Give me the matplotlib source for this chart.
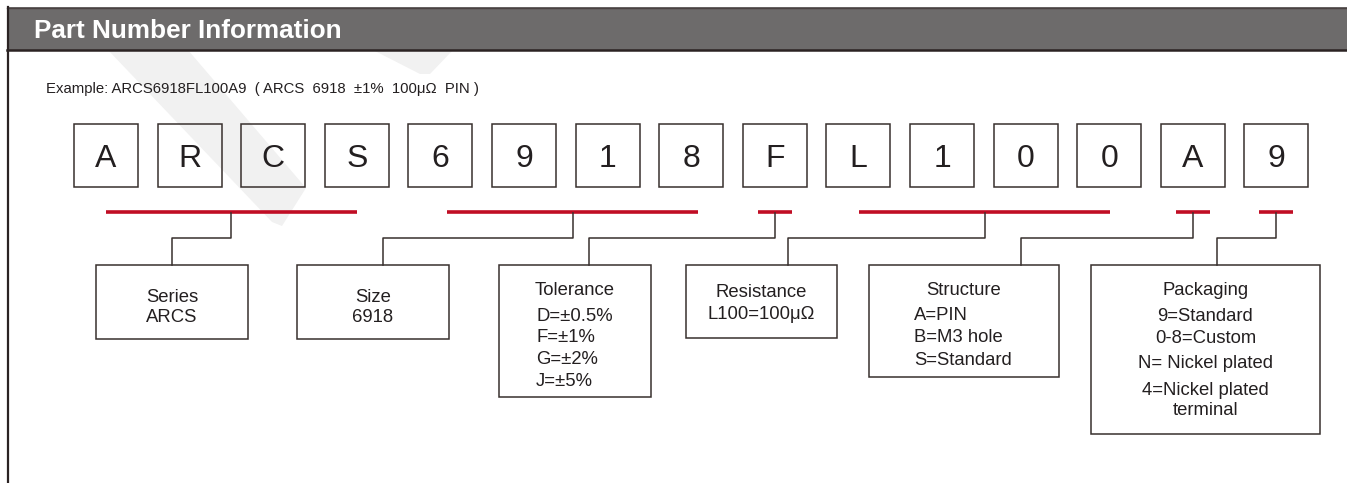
import matplotlib.pyplot as plt
from matplotlib.patches import Rectangle, Polygon

plt.rcParams['font.family'] = ['Liberation Sans', 'DejaVu Sans']

# part number, one character per box
letters = list("ARCS6918FL100A9")

# fields: first and last character index of each
field_span = [(0, 3), (4, 7), (8, 8), (9, 12), (13, 13), (14, 14)]
field_title = ["Series", "Size", "Tolerance", "Resistance", "Structure", "Packaging"]
field_lines = [
    ["ARCS"],
    ["6918"],
    ["D=±0.5%", "F=±1%", "G=±2%", "J=±5%"],
    ["L100=100μΩ"],
    ["A=PIN", "B=M3 hole", "S=Standard"],
    ["9=Standard", "0-8=Custom", "N= Nickel plated", "4=Nickel plated", "terminal"],
]
field_align = ["center", "center", "left", "center", "left", "center"]

header = "Part Number Information"
example = "Example: ARCS6918FL100A9  ( ARCS  6918  ±1%  100μΩ  PIN )"

# layout (pixels)
W, H = 1347, 483
box_x0, box_step, box_w, box_top, box_h = 74, 83.6, 64, 124, 63
red_y, mid_y, card_top = 212, 238, 265
red_shift = [0, 7, 0, 1, 0, 0]
card_x = [(96, 248), (297, 449), (499, 651), (686, 837), (869, 1059), (1091, 1320)]
card_bottom = [339, 339, 397, 338, 377, 434]
drop_x = [172, 383, 589, 788, 1021, 1217]
title_base = [302, 302, 295, 297, 295, 295]
line_base = [[322], [322], [321, 342, 364, 386], [319], [320, 342, 365],
             [321, 343, 368, 395, 415]]
left_x = {2: 536, 4: 914}

dark = '#38302e'
txt = '#231f20'
red = '#c00d24'

fig = plt.figure(figsize=(W / 100, H / 100), dpi=100)
ax = fig.add_axes([0, 0, 1, 1])
ax.set_xlim(0, W)
ax.set_ylim(H, 0)
ax.axis('off')

# faint watermark
ax.add_patch(Polygon([(108, 50), (188, 50), (306, 188), (282, 226), (272, 222)],
                     closed=True, color='#f1f1f1', lw=0, zorder=0))
ax.add_patch(Polygon([(373, 50), (453, 50), (430, 74), (420, 74)],
                     closed=True, color='#f1f1f1', lw=0, zorder=0))

# header bar
ax.add_patch(Rectangle((7, 7), W, 43, facecolor='#6d6b6b', edgecolor='none', zorder=1))
ax.plot([7, W], [7.5, 7.5], color='#4a4242', lw=1.0, zorder=2)
ax.plot([7, W], [49.5, 49.5], color='#2b2323', lw=1.8, zorder=2)
ax.plot([7.5, 7.5], [7, H], color='#2b2323', lw=1.6, zorder=2)
ax.text(34, 38, header, color='white', fontsize=18.8, fontweight='bold', va='baseline')

ax.text(46, 93, example, color=txt, fontsize=10.7, va='baseline')

# character boxes
centers = []
for i, ch in enumerate(letters):
    x = box_x0 + i * box_step
    centers.append(x + box_w / 2)
    ax.add_patch(Rectangle((x, box_top), box_w, box_h, facecolor='none',
                           edgecolor=dark, lw=1.1, zorder=3))
    ax.text(x + box_w / 2, 167, ch, color=txt, fontsize=23, ha='center',
            va='baseline', zorder=4)

# fields
for k, (a, b) in enumerate(field_span):
    if a == b:
        x1, x2 = centers[a] - 17, centers[a] + 17
    else:
        x1, x2 = centers[a] + red_shift[k], centers[b] + red_shift[k]
    ax.plot([x1, x2], [red_y, red_y], color=red, lw=2.6, solid_capstyle='butt', zorder=3)
    xm = (x1 + x2) / 2
    ax.plot([xm, xm, drop_x[k], drop_x[k]], [red_y + 1, mid_y, mid_y, card_top],
            color=dark, lw=1.1, zorder=3)
    cx0, cx1 = card_x[k]
    ax.add_patch(Rectangle((cx0, card_top), cx1 - cx0, card_bottom[k] - card_top,
                           facecolor='none', edgecolor=dark, lw=1.1, zorder=3))
    cc = (cx0 + cx1) / 2
    ax.text(cc, title_base[k], field_title[k], color=txt, fontsize=13.3,
            ha='center', va='baseline')
    for s, yb in zip(field_lines[k], line_base[k]):
        if field_align[k] == 'left':
            ax.text(left_x[k], yb, s, color=txt, fontsize=13.3, ha='left', va='baseline')
        else:
            ax.text(cc, yb, s, color=txt, fontsize=13.3, ha='center', va='baseline')

fig.savefig('out.png', dpi=100)
